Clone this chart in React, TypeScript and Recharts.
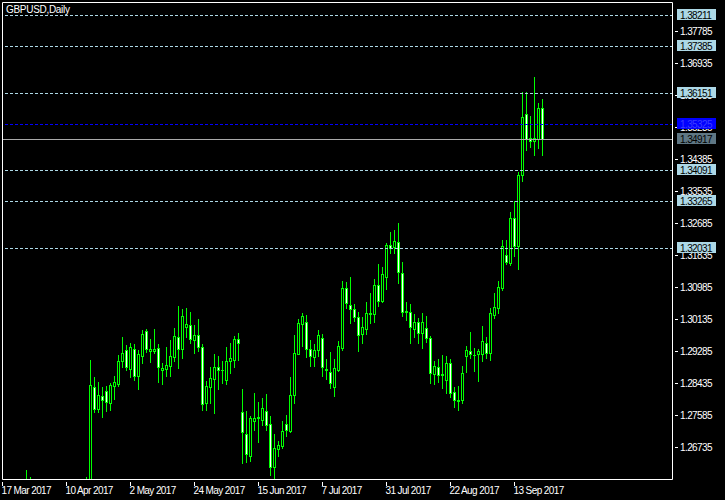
import React from 'react';
import { ComposedChart, Bar, XAxis, YAxis, ReferenceLine, Customized } from 'recharts';

const FONT = '"Liberation Sans", Arial, sans-serif';

const dates = [
  '2017-03-17','2017-03-20','2017-03-21','2017-03-22','2017-03-23','2017-03-24','2017-03-27','2017-03-28','2017-03-29','2017-03-30','2017-03-31',
  '2017-04-03','2017-04-04','2017-04-05','2017-04-06','2017-04-07','2017-04-10','2017-04-11','2017-04-12','2017-04-13','2017-04-14',
  '2017-04-17','2017-04-18','2017-04-19','2017-04-20','2017-04-21','2017-04-24','2017-04-25','2017-04-26','2017-04-27','2017-04-28',
  '2017-05-01','2017-05-02','2017-05-03','2017-05-04','2017-05-05','2017-05-08','2017-05-09','2017-05-10','2017-05-11','2017-05-12',
  '2017-05-15','2017-05-16','2017-05-17','2017-05-18','2017-05-19','2017-05-22','2017-05-23','2017-05-24','2017-05-25','2017-05-26',
  '2017-05-29','2017-05-30','2017-05-31','2017-06-01','2017-06-02','2017-06-05','2017-06-06','2017-06-07','2017-06-08','2017-06-09',
  '2017-06-12','2017-06-13','2017-06-14','2017-06-15','2017-06-16','2017-06-19','2017-06-20','2017-06-21','2017-06-22','2017-06-23',
  '2017-06-26','2017-06-27','2017-06-28','2017-06-29','2017-06-30','2017-07-03','2017-07-04','2017-07-05','2017-07-06','2017-07-07',
  '2017-07-10','2017-07-11','2017-07-12','2017-07-13','2017-07-14','2017-07-17','2017-07-18','2017-07-19','2017-07-20','2017-07-21',
  '2017-07-24','2017-07-25','2017-07-26','2017-07-27','2017-07-28','2017-07-31','2017-08-01','2017-08-02','2017-08-03','2017-08-04',
  '2017-08-07','2017-08-08','2017-08-09','2017-08-10','2017-08-11','2017-08-14','2017-08-15','2017-08-16','2017-08-17','2017-08-18',
  '2017-08-21','2017-08-22','2017-08-23','2017-08-24','2017-08-25','2017-08-28','2017-08-29','2017-08-30','2017-08-31','2017-09-01',
  '2017-09-04','2017-09-05','2017-09-06','2017-09-07','2017-09-08','2017-09-11','2017-09-12','2017-09-13','2017-09-14','2017-09-15',
  '2017-09-18','2017-09-19','2017-09-20','2017-09-21','2017-09-22',
];

const opens = [
  1.2336,1.2398,1.2369,1.2475,1.2478,1.2490,1.2474,1.2580,1.2450,1.2437,1.2467,
  1.2547,1.2476,1.2438,1.2488,1.2478,1.2398,1.2409,1.2464,1.2532,1.2542,
  1.2534,1.2566,1.2834,1.2774,1.2810,1.2821,1.2791,1.2836,1.2842,1.2902,
  1.2930,1.2882,1.2933,1.2863,1.2916,1.2981,1.2929,1.2929,1.2936,1.2877,
  1.2880,1.2889,1.2913,1.2967,1.2933,1.2991,1.2997,1.2959,1.2970,1.2938,
  1.2791,1.2834,1.2855,1.2885,1.2879,1.2852,1.2901,1.2904,1.2960,1.2766,
  1.2707,1.2650,1.2743,1.2750,1.2746,1.2768,1.2734,1.2621,1.2669,1.2677,
  1.2734,1.2716,1.2812,1.2921,1.3001,1.3005,1.2933,1.2912,1.2931,1.2962,
  1.2879,1.2873,1.2834,1.2877,1.2936,1.3095,1.3050,1.3039,1.3018,1.2973,
  1.2986,1.3028,1.3026,1.3103,1.3062,1.3124,1.3210,1.3204,1.3219,1.3135,
  1.3035,1.3031,1.2986,1.3005,1.2976,1.2989,1.2962,1.2867,1.2887,1.2867,
  1.2852,1.2896,1.2820,1.2797,1.2798,1.2916,1.2928,1.2917,1.2920,1.2920,
  1.2950,1.2924,1.3024,1.3044,1.3097,1.3184,1.3161,1.3281,1.3207,1.3395,
  1.3557,1.3493,1.3485,1.3491,1.3574,
];

const highs = [
  1.2410,1.2403,1.2479,1.2492,1.2525,1.2511,1.2612,1.2594,1.2465,1.2480,1.2558,
  1.2560,1.2485,1.2527,1.2504,1.2484,1.2434,1.2475,1.2542,1.2562,1.2551,
  1.2594,1.2905,1.2859,1.2846,1.2834,1.2836,1.2843,1.2862,1.2918,1.2966,
  1.2944,1.2949,1.2947,1.2931,1.2984,1.2988,1.2960,1.2987,1.2947,1.2897,
  1.2939,1.2957,1.2990,1.3048,1.3040,1.3043,1.3031,1.2998,1.3013,1.2947,
  1.2849,1.2886,1.2920,1.2915,1.2903,1.2939,1.2949,1.2968,1.2976,1.2828,
  1.2768,1.2756,1.2817,1.2794,1.2804,1.2814,1.2757,1.2708,1.2689,1.2742,
  1.2758,1.2859,1.2971,1.3013,1.3029,1.3024,1.2958,1.2948,1.2984,1.2974,
  1.2907,1.2926,1.2906,1.2955,1.3114,1.3113,1.3125,1.3053,1.3033,1.3020,
  1.3059,1.3083,1.3120,1.3160,1.3152,1.3215,1.3245,1.3250,1.3268,1.3165,
  1.3059,1.3053,1.3026,1.3016,1.3029,1.3021,1.2968,1.2902,1.2907,1.2918,
  1.2915,1.2907,1.2834,1.2836,1.2889,1.2941,1.2979,1.2936,1.2934,1.2995,
  1.2967,1.3042,1.3082,1.3114,1.3223,1.3223,1.3298,1.3328,1.3405,1.3617,
  1.3617,1.3553,1.3657,1.3588,1.3598,
];

const lows = [
  1.2330,1.2342,1.2353,1.2443,1.2453,1.2465,1.2465,1.2440,1.2377,1.2422,1.2440,
  1.2456,1.2414,1.2437,1.2448,1.2366,1.2372,1.2390,1.2440,1.2492,1.2524,
  1.2524,1.2516,1.2767,1.2767,1.2754,1.2770,1.2772,1.2802,1.2836,1.2887,
  1.2878,1.2860,1.2851,1.2828,1.2897,1.2927,1.2900,1.2922,1.2847,1.2841,
  1.2862,1.2862,1.2903,1.2883,1.2911,1.2965,1.2949,1.2923,1.2929,1.2772,
  1.2772,1.2791,1.2765,1.2827,1.2843,1.2841,1.2869,1.2885,1.2904,1.2632,
  1.2633,1.2636,1.2719,1.2687,1.2732,1.2719,1.2599,1.2588,1.2650,1.2670,
  1.2703,1.2714,1.2791,1.2921,1.2943,1.2913,1.2889,1.2889,1.2916,1.2863,
  1.2853,1.2829,1.2810,1.2875,1.2931,1.3043,1.3002,1.3008,1.2929,1.2950,
  1.2973,1.3002,1.3005,1.3048,1.3059,1.3094,1.3190,1.3190,1.3110,1.3021,
  1.3011,1.2950,1.2966,1.2949,1.2937,1.2952,1.2844,1.2840,1.2847,1.2829,
  1.2818,1.2807,1.2781,1.2773,1.2791,1.2872,1.2910,1.2876,1.2850,1.2903,
  1.2909,1.2905,1.3015,1.3029,1.3091,1.3159,1.3156,1.3181,1.3146,1.3380,
  1.3462,1.3470,1.3449,1.3467,1.3449,
];

const closes = [
  1.2398,1.2369,1.2475,1.2478,1.2490,1.2474,1.2580,1.2450,1.2437,1.2467,1.2547,
  1.2476,1.2438,1.2488,1.2478,1.2398,1.2409,1.2464,1.2532,1.2542,1.2534,
  1.2566,1.2837,1.2774,1.2811,1.2798,1.2792,1.2837,1.2845,1.2902,1.2922,
  1.2885,1.2938,1.2863,1.2920,1.2973,1.2935,1.2935,1.2935,1.2885,1.2883,
  1.2891,1.2914,1.2968,1.2933,1.3021,1.3000,1.2960,1.2970,1.2938,1.2787,
  1.2835,1.2856,1.2886,1.2877,1.2878,1.2901,1.2909,1.2960,1.2949,1.2713,
  1.2655,1.2750,1.2751,1.2753,1.2776,1.2733,1.2621,1.2670,1.2678,1.2715,
  1.2719,1.2811,1.2922,1.3002,1.3021,1.2935,1.2916,1.2931,1.2971,1.2887,
  1.2880,1.2844,1.2883,1.2941,1.3095,1.3055,1.3039,1.3020,1.2971,1.2991,
  1.3029,1.3029,1.3103,1.3061,1.3132,1.3210,1.3203,1.3222,1.3139,1.3033,
  1.3032,1.2991,1.3005,1.2976,1.3005,1.2962,1.2869,1.2889,1.2864,1.2866,
  1.2896,1.2818,1.2798,1.2798,1.2869,1.2931,1.2921,1.2917,1.2929,1.2955,
  1.2924,1.3029,1.3046,1.3098,1.3207,1.3164,1.3281,1.3207,1.3396,1.3551,
  1.3491,1.3486,1.3493,1.3574,1.3491,
];

const dateTickIdx = [0, 16, 32, 48, 64, 80, 96, 112, 128];
const dateTickLabels = ['17 Mar 2017', '10 Apr 2017', '2 May 2017', '24 May 2017', '15 Jun 2017', '7 Jul 2017', '31 Jul 2017', '22 Aug 2017', '13 Sep 2017'];

const priceTicks = [1.26735, 1.27585, 1.28435, 1.29285, 1.30135, 1.30985, 1.31835, 1.32685, 1.33535, 1.34385, 1.35235, 1.36085, 1.36935, 1.37785];
const levelLines = [1.38211, 1.37385, 1.36151, 1.34091, 1.33265, 1.32031];
const bidLevel = 1.35325;
const closeLevel = 1.34917;

const X_DOMAIN: [number, number] = [0, 167.5];
const Y_DOMAIN: [number, number] = [1.25885, 1.38555];

const data = dates.map((d, i) => ({
  idx: i,
  date: d,
  open: opens[i],
  high: highs[i],
  low: lows[i],
  close: closes[i],
  range: [lows[i], highs[i]],
}));

const GREEN = '#00ff00';
const LIGHTBLUE = '#add8e6';

const renderCandle = (props: any) => {
  const { x, y, width, height, payload } = props;
  if (x == null || y == null || !payload) return <g />;
  const { open, close, high, low } = payload;
  const col = Math.round(x + width / 2 - 0.5);
  const span = high - low;
  const toRow = (p: number) => Math.round(y + ((high - p) / span) * height - 0.5);
  const rH = toRow(high);
  const rL = toRow(low);
  const rO = toRow(open);
  const rC = toRow(close);
  const top = Math.min(rO, rC);
  const bot = Math.max(rO, rC);
  const bull = close > open;
  return (
    <g>
      <rect x={col} y={rH} width={1} height={rL - rH + 1} fill={GREEN} />
      <rect x={col - 1} y={top} width={3} height={bot - top + 1} fill={GREEN} />
      {bot - top >= 2 && (
        <rect x={col} y={top + 1} width={1} height={bot - top - 1} fill={bull ? '#000000' : '#ffffff'} />
      )}
    </g>
  );
};

const PriceTick = (props: any) => {
  const { x, y, payload } = props;
  const v = payload.value as number;
  const row = Math.round(y - 0.5);
  const ax = Math.round(x - 0.5);
  const label = v.toFixed(5);
  const isLevel = levelLines.indexOf(v) >= 0;
  if (isLevel || v === bidLevel || v === closeLevel) {
    const bg = v === bidLevel ? '#0000ff' : v === closeLevel ? '#5f7784' : LIGHTBLUE;
    const fg = v === bidLevel ? '#3c3cff' : '#000000';
    return (
      <g>
        <rect x={ax + 3} y={row - 6} width={39} height={11} fill={bg} />
        <text x={ax + 6} y={row + 3.5} fill={fg} fontFamily={FONT} fontSize={10} letterSpacing={-0.6}>
          {label}
        </text>
      </g>
    );
  }
  return (
    <g>
      <rect x={ax + 1} y={row} width={3} height={1} fill="#ffffff" />
      <text x={ax + 6} y={row + 4} fill="#ffffff" fontFamily={FONT} fontSize={10} letterSpacing={-0.6}>
        {label}
      </text>
    </g>
  );
};

const DateTick = (props: any) => {
  const { x, y, payload } = props;
  const col = Math.round(x - 0.5);
  const row = Math.round(y - 0.5);
  const k = dateTickIdx.indexOf(payload.value);
  return (
    <g>
      <rect x={col} y={row + 1} width={1} height={4} fill="#ffffff" />
      <text x={col - 0.5} y={row + 13} fill="#ffffff" fontFamily={FONT} fontSize={10} letterSpacing={-0.6}>
        {k >= 0 ? dateTickLabels[k] : ''}
      </text>
    </g>
  );
};

const levelShape = (color: string, dash?: string) => (props: any) => {
  const { x1, x2, y1 } = props;
  if (x1 == null || y1 == null) return <g />;
  const yy = Math.round(y1 - 0.5) + 0.5;
  return <line x1={x1} x2={x2} y1={yy} y2={yy} stroke={color} strokeWidth={1} strokeDasharray={dash} shapeRendering="crispEdges" />;
};

const TitleText = () => (
  <text x={6} y={13} fill="#ffffff" fontFamily={FONT} fontSize={10} letterSpacing={-0.3}>
    GBPUSD,Daily
  </text>
);

const allYTicks = [...priceTicks, ...levelLines, bidLevel, closeLevel];

export default function App() {
  return (
    <div style={{ position: 'absolute', left: 0, top: 0, width: 725, height: 500, background: '#000000' }}>
      <ComposedChart width={725} height={500} data={data} margin={{ top: 0.5, right: 0, bottom: 0, left: 0.5 }}>
        <XAxis
          xAxisId="main"
          dataKey="idx"
          type="number"
          domain={X_DOMAIN}
          allowDataOverflow
          ticks={dateTickIdx}
          interval={0}
          height={20.5}
          tickSize={0}
          tickLine={false}
          axisLine={{ stroke: '#ffffff' }}
          tick={<DateTick />}
        />
        <XAxis
          xAxisId="top"
          orientation="top"
          dataKey="idx"
          type="number"
          domain={X_DOMAIN}
          allowDataOverflow
          height={2}
          tick={false}
          tickLine={false}
          axisLine={{ stroke: '#ffffff' }}
        />
        <YAxis
          yAxisId="price"
          orientation="right"
          type="number"
          domain={Y_DOMAIN}
          allowDataOverflow
          ticks={allYTicks}
          interval={0}
          width={52.5}
          tickSize={0}
          tickLine={false}
          axisLine={{ stroke: '#ffffff' }}
          tick={<PriceTick />}
        />
        <YAxis
          yAxisId="left"
          orientation="left"
          type="number"
          domain={Y_DOMAIN}
          allowDataOverflow
          width={2}
          tick={false}
          tickLine={false}
          axisLine={{ stroke: '#ffffff' }}
        />
        {levelLines.map((lv) => (
          <ReferenceLine key={lv} xAxisId="main" yAxisId="price" y={lv} shape={levelShape(LIGHTBLUE, '3 2')} />
        ))}
        <ReferenceLine xAxisId="main" yAxisId="price" y={bidLevel} shape={levelShape('#0000ff', '3 2')} />
        <ReferenceLine xAxisId="main" yAxisId="price" y={closeLevel} shape={levelShape('#a9a9a9')} />
        <Bar
          xAxisId="main"
          yAxisId="price"
          dataKey="range"
          barSize={3}
          shape={renderCandle}
          isAnimationActive={false}
        />
        <Customized component={TitleText} />
      </ComposedChart>
    </div>
  );
}
